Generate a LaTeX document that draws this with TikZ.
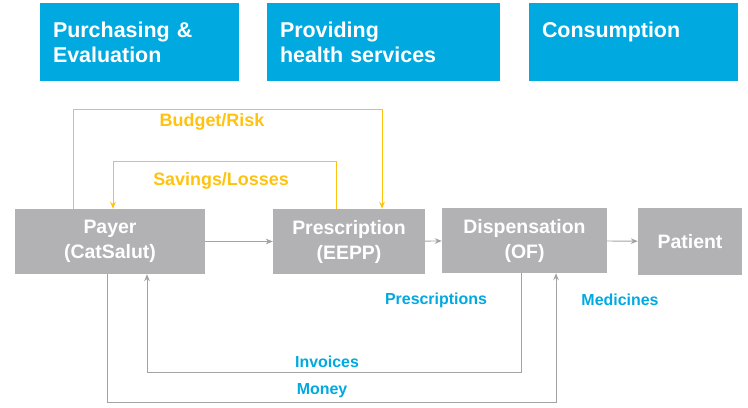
\documentclass[tikz,border=0pt]{standalone}
\usepackage{fontspec}
\setmainfont{Liberation Sans}
\usepackage{xcolor}
\definecolor{catCyan}{HTML}{00A9E0}
\definecolor{catGris}{HTML}{B2B2B4}
\definecolor{catGrisLigne}{HTML}{A3A3A5}
\definecolor{catOr}{HTML}{FFC20E}
\usepackage{tikz}
\usetikzlibrary{arrows.meta, positioning}
\newcommand{\SansCesure}{\hyphenpenalty=10000\exhyphenpenalty=10000\relax}
\tikzset{
  %% ── Boxes ────────────────────────────────────────────────────────────
  %% Cyan bands name the phases, grey boxes are the actors.
  blocPhase/.style  = {fill=catCyan, draw=none, text=white, align=left,
                       font=\fontsize{18.3}{21.3}\selectfont\bfseries,
                       minimum height=2.34cm, inner xsep=0.39cm,
                       execute at begin node=\SansCesure},
  blocActeur/.style = {fill=catGris, draw=none, text=white, align=center,
                       font=\fontsize{16.6}{21.3}\selectfont\bfseries,
                       minimum height=1.95cm, inner sep=2pt},
  %%
  %% ── Arrows ───────────────────────────────────────────────────────────
  fleche/.style     = {-{Stealth[length=2.1mm, width=1.7mm]}, draw=catGrisLigne,
                       line width=0.8pt},
  flecheOr/.style   = {-{Stealth[length=2.1mm, width=1.7mm]}, draw=catOr,
                       line width=0.8pt},
  %%
  %% ── Text ─────────────────────────────────────────────────────────────
  etiquetteOr/.style   = {font=\fontsize{15.3}{18}\selectfont\bfseries,
                          text=catOr, inner sep=1pt},
  etiquetteFlux/.style = {font=\fontsize{13.6}{16}\selectfont\bfseries,
                          text=catCyan, inner sep=1pt},
}

\begin{document}
\begin{tikzpicture}[x=1cm, y=1cm]
\useasboundingbox (0, 0) rectangle (22.44, 12.21);

%% Les trois phases en haut.
\node[blocPhase, minimum width=5.97cm, text width=5.19cm] (achat) at (4.185, 10.95)
     {Purchasing \&\\Evaluation};
\node[blocPhase, minimum width=6.99cm, text width=6.21cm] (soins) at (11.505, 10.95)
     {Providing\\health services};
\node[blocPhase, minimum width=6.27cm, text width=5.49cm] (conso) at (19.005, 10.95)
     {Consumption\\\mbox{}};

%% La chaine des acteurs.
\node[blocActeur, minimum width=5.70cm] (payer) at (3.30, 4.965)
     {Payer\\(CatSalut)};
\node[blocActeur, minimum width=4.56cm] (presc) at (10.47, 4.965)
     {Prescription\\(EEPP)};
\node[blocActeur, minimum width=4.95cm] (disp) at (15.735, 4.995)
     {Dispensation\\(OF)};
\node[blocActeur, minimum width=3.12cm, minimum height=2.01cm] (pat) at (20.70, 4.965)
     {Patient};

\foreach \a/\b in {payer/presc, presc/disp, disp/pat}
  \draw[fleche] (\a) -- (\b);

%% Les boucles budgetaires au-dessus.
\draw[flecheOr] ([xshift=-1.11cm]payer.north) -- ++(0, 2.97)
     -| ([xshift=0.99cm]presc.north);
\node[etiquetteOr] (budget) at (6.36, 8.55) {Budget/Risk};
\draw[flecheOr] ([xshift=-0.39cm]presc.north) -- ++(0, 1.41)
     -| ([xshift=0.09cm]payer.north);
\node[etiquetteOr] (epargne) at (6.63, 6.78) {Savings/Losses};

%% Les flux en dessous.
\draw[fleche] ([xshift=-0.105cm]disp.south) -- ++(0, -2.97)
     -| ([xshift=1.11cm]payer.south);
\node[etiquetteFlux] (factures) at (9.81, 1.35) {Invoices};
\draw[fleche] ([xshift=-0.09cm]payer.south) -- ++(0, -3.84)
     -| ([xshift=0.945cm]disp.south);
\node[etiquetteFlux] (argent) at (9.66, 0.48) {Money};
\node[etiquetteFlux] (ordonnances) at (13.08, 3.21) {Prescriptions};
\node[etiquetteFlux] (medicaments) at (18.60, 3.21) {Medicines};

\end{tikzpicture}
\end{document}
